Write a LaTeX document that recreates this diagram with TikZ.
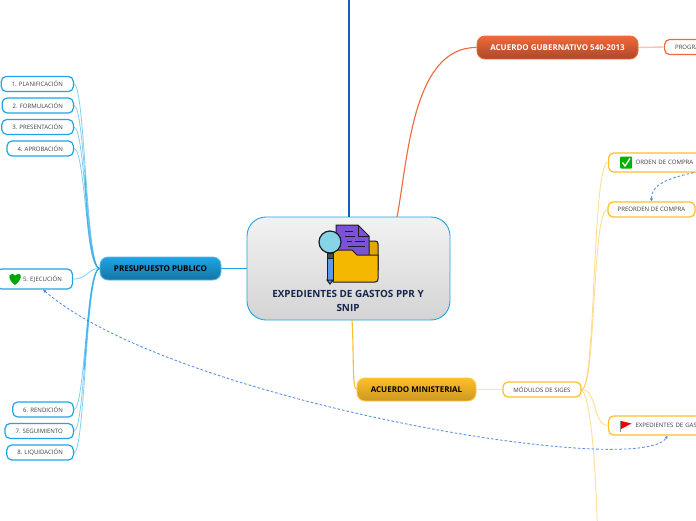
\documentclass[tikz,border=0pt]{standalone}
\usepackage{fontspec}
\setmainfont{Open Sans}
\usetikzlibrary{arrows.meta,positioning,calc}
\definecolor{budgetblue}{HTML}{1FA5E6}
\definecolor{decreeorange}{HTML}{F2683A}
\definecolor{rulingyellow}{HTML}{FFBE2A}
\definecolor{linkblue}{HTML}{3F7FDC}
\definecolor{titlenavy}{HTML}{14264F}
\definecolor{iconline}{HTML}{1C1C28}
\definecolor{trunkblue}{HTML}{0B63C9}
\definecolor{iconfolder}{HTML}{F5B800}
\definecolor{icontab}{HTML}{E5A500}
\definecolor{iconpaper}{HTML}{7B52D6}
\definecolor{iconglass}{HTML}{86D4E6}
\definecolor{iconhandle}{HTML}{5B9AEE}
\tikzset{
  rootbox/.style={draw=budgetblue, line width=0.9pt, rounded corners=19pt, top color=white!95!black, bottom color=black!17,
    minimum width=203pt, minimum height=103pt},
  mainbox/.style={rounded corners=8pt, minimum height=23pt, inner sep=0pt, line width=0.9pt, font=\fontsize{8}{10}\selectfont\bfseries},
  leafbox/.style={draw=#1, fill=white, rounded corners=5pt, line width=1.2pt, minimum height=15pt, inner xsep=10.5pt, inner ysep=0pt,
    font=\fontsize{6.05}{7}\selectfont, text=black!75},
  branchline/.style={line width=1.1pt, draw=#1},
  twigline/.style={line width=0.8pt, draw=#1, opacity=0.55},
  trunkline/.style={line width=1.3pt, draw=#1, opacity=0.6},
  linkline/.style={dash pattern=on 2.6pt off 2pt, line width=0.9pt, draw=linkblue, opacity=0.85}
}
\begin{document}
\begin{tikzpicture}[x=1pt, y=-1pt]
\useasboundingbox (0,0) rectangle (696,520);
\clip (0,0) rectangle (696,520);
\fill[white] (0,0) rectangle (696,520);

\node[rootbox] (root) at (348.5,268.5) {};
\node[font=\fontsize{9.9}{14}\selectfont\bfseries, text=titlenavy, align=center] (roottitle) at (348,301) {EXPEDIENTES DE GASTOS PPR Y\\SNIP};

\node[mainbox, draw=budgetblue!75, top color=budgetblue, bottom color=budgetblue!70!black, text=black, minimum width=121pt] (budget) at (160.5,268.5) {PRESUPUESTO PUBLICO};
\node[mainbox, draw=decreeorange, top color=decreeorange, bottom color=decreeorange!70!black, text=white, minimum width=161pt] (decree) at (557.5,47.5) {ACUERDO GUBERNATIVO 540-2013};
\node[mainbox, draw=rulingyellow!85, top color=rulingyellow, bottom color=rulingyellow!80!black, text=black, minimum width=119pt] (ruling) at (416.5,389.5) {ACUERDO MINISTERIAL};

\coordinate (topend) at (349,-5);
\draw[branchline=trunkblue, line width=1.5pt] (root.north -| topend) -- (topend);
\draw[branchline=decreeorange] (397,217) .. controls (408,160) and (412,47) .. (decree.west);
\draw[branchline=rulingyellow] (352,320) .. controls (354,350) and (352,389) .. (ruling.west);
\draw[branchline=budgetblue] (budget.east) -- (root.west |- budget.east);

\foreach \name/\y/\lab in {
  plan/84/{1. PLANIFICACIÓN},
  form/105.5/{2. FORMULACIÓN},
  pres/127/{3. PRESENTACIÓN},
  appr/148.5/{4. APROBACIÓN},
  rend/409.5/{6. RENDICIÓN},
  follow/431/{7. SEGUIMIENTO},
  liqu/452.5/{8. LIQUIDACIÓN}
}{
  \node[leafbox=budgetblue, anchor=east] (\name) at (74,\y) {\lab};
  \draw[twigline=budgetblue] (budget.west) .. controls (86,268) and (85,\y) .. (\name.east);
}
\coordinate (trunkup) at (85,175);
\coordinate (trunkdown) at (84,370);
\draw[trunkline=budgetblue] (budget.west) .. controls (91,266) and (87,230) .. (trunkup);
\draw[trunkline=budgetblue] (budget.west) .. controls (91,270) and (88,320) .. (trunkdown);

\node[leafbox=budgetblue, anchor=east, minimum height=20pt] (exec) at (73,279) {\hspace*{16pt}5. EJECUCIÓN};
\draw[twigline=budgetblue] (budget.west) .. controls (88,268) and (88,279) .. (exec.east);

\node[leafbox=decreeorange, anchor=west, minimum width=60pt, align=left, inner xsep=10.5pt, text width=39pt] (prog) at (664,47) {PROGRA};
\draw[twigline=decreeorange, opacity=0.4, line width=1.4pt] (decree.east) -- (prog.west);

\node[leafbox=rulingyellow, minimum width=78pt, inner xsep=0pt] (modules) at (542,389.5) {MÓDULOS DE SIGES};
\draw[twigline=rulingyellow, opacity=0.4, line width=1.4pt] (ruling.east) -- (modules.west);

\node[leafbox=rulingyellow, anchor=west, minimum width=170pt, minimum height=19pt, inner xsep=26.5pt, text width=116pt, align=left] (order) at (608,162.5) {ORDEN DE COMPRA};
\node[leafbox=rulingyellow, minimum width=87pt, inner xsep=0pt] (preorder) at (651.5,209.5) {PREORDEN DE COMPRA};
\node[leafbox=rulingyellow, anchor=west, minimum width=118pt, minimum height=19pt, inner xsep=26.5pt, text width=64pt, align=left] (files) at (608,425.5) {EXPEDIENTES DE GAS};
\coordinate (modulesend) at (597.5,530);

\draw[twigline=rulingyellow] (modules.east) .. controls (596,390) and (592,162) .. (order.west);
\draw[twigline=rulingyellow] (modules.east) .. controls (596,390) and (592,209) .. (preorder.west);
\draw[twigline=rulingyellow] (modules.east) .. controls (598,390) and (592,425) .. (files.west);
\draw[twigline=rulingyellow] (modules.east) .. controls (592,400) and (596,480) .. (modulesend);

\draw[linkline, -{Latex[length=3pt,width=3.5pt]}] (order.south) .. controls (670,178) and (651,184) .. (preorder.north);
\draw[linkline, {Latex[length=3pt,width=3.5pt]}-{Latex[length=3pt,width=3.5pt]}] (exec.-51) .. controls (170,400) and (640,480) .. (files.south);

\draw[iconline, line width=1pt, fill=icontab] (350,241) -- (375,241) .. controls (377,241) and (378,242) .. (378,244) -- (378,270) -- (350,270) -- cycle;
\draw[iconline, line width=1pt, fill=iconpaper] (336,225) -- (358,225) -- (369,236) -- (369,262) -- (336,262) -- cycle;
\draw[iconline, line width=1pt] (358,225) -- (358,236) -- (369,236);
\draw[iconline, line width=1pt] (345,231) -- (353,231) (345,236) -- (355,236) (347,241) -- (352,241) (355,241) -- (365,241) (348,246) -- (365,246);
\draw[iconline, line width=1pt, fill=iconfolder] (333,250) -- (352,250) -- (357,255) -- (378,255) -- (378,279) .. controls (378,281) and (377,282) .. (375,282) -- (333,282) -- cycle;
\draw[iconline, line width=1pt, fill=iconhandle] (327,253) rectangle (333,280);
\draw[iconline, line width=1pt, fill=iconhandle] (327,280) -- (330,284) -- (333,280) -- cycle;
\draw[iconline, line width=1pt, fill=black!70] (327,253) rectangle (333,258);
\draw[iconline, line width=1.2pt, fill=iconglass] (330,242) circle (11);

\fill[green!65!black] (15,285) .. controls (8,280) and (8,274) .. (12,274) .. controls (14,274) and (15,275) .. (15,276) .. controls (15,275) and (17,274) .. (19,274) .. controls (22,274) and (22,280) .. (15,285) -- cycle;

\fill[green!70!black, rounded corners=1pt] (620,156.5) rectangle (632,168.5);
\draw[white, line width=1.3pt] (622.5,162.5) -- (625,166) -- (630,158.5);

\draw[black!45, line width=0.9pt] (620.5,421) -- (620.5,432);
\fill[red!95!black] (621,421) -- (631.5,423.5) -- (621,429) -- cycle;
\end{tikzpicture}
\end{document}
